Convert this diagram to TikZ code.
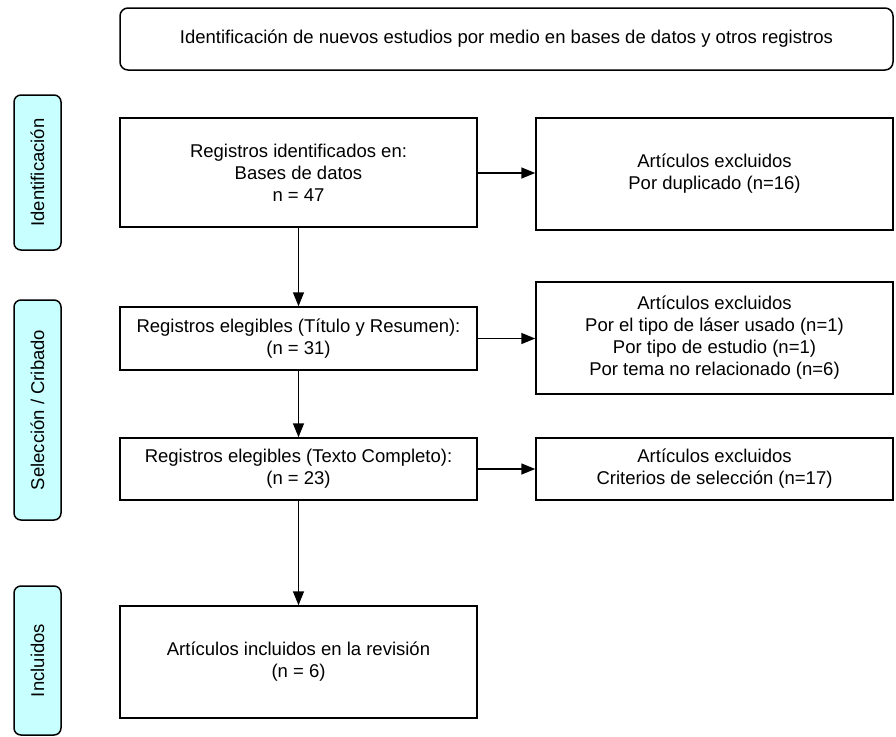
\documentclass[tikz,border=0pt]{standalone}
\usepackage{fontspec}
\setmainfont{Liberation Sans}
\usetikzlibrary{arrows.meta}
\definecolor{fasefill}{RGB}{200,255,255}
\tikzset{
  caja/.style={draw, line width=1.5pt, minimum width=357pt, align=center, inner sep=0pt},
  fase/.style={draw, line width=1.5pt, rounded corners=7pt, fill=fasefill, rotate=90,
    minimum height=47pt, inner sep=0pt},
  flecha/.style={line width=1.5pt, -{Triangle[length=14pt,width=11pt]}}
}
\begin{document}
\begin{tikzpicture}[x=1pt, y=-1pt, every node/.style={font=\fontsize{18.5}{22}\selectfont}]
  \useasboundingbox (0,0) rectangle (896,736);
  % fases
  \node[fase, minimum width=155pt] (ident) at (37.5,172.5) {Identificación};
  \node[fase, minimum width=220pt] (cribado) at (37.5,410) {Selección / Cribado};
  \node[fase, minimum width=149pt] (incl) at (37.5,660.5) {Incluidos};
  % cajas
  \node[caja, rounded corners=8pt, minimum width=773pt, minimum height=62pt] (titulo) at (506.5,39)
    {Identificación de nuevos estudios por medio en bases de datos y otros registros};
  \node[caja, minimum height=109pt] (reg) at (298.5,172.5)
    {Registros identificados en:\\Bases de datos\\n = 47\hspace*{0pt}};
  \node[caja, minimum height=112pt] (excl) at (714.5,174)
    {Artículos excluidos\\Por duplicado (n=16)};
  \node[caja, minimum height=63pt] (tit) at (298.5,338.5)
    {Registros elegibles (Título y Resumen):\\(n = 31)};
  \node[caja, minimum height=112pt] (exclTit) at (714.5,338)
    {Artículos excluidos\\Por el tipo de láser usado (n=1)\\Por tipo de estudio (n=1)\\Por tema no relacionado (n=6)};
  \node[caja, minimum height=62pt] (texto) at (298.5,469)
    {Registros elegibles (Texto Completo):\\(n = 23)};
  \node[caja, minimum height=62pt] (exclTexto) at (714.5,469)
    {Artículos excluidos\\Criterios de selección (n=17)};
  \node[caja, minimum height=112pt] (fin) at (298.5,662)
    {Artículos incluidos en la revisión\\(n = 6)};
  % flechas
  \draw[flecha] (reg) -- (tit);
  \draw[flecha] (tit) -- (texto);
  \draw[flecha] (texto) -- (fin);
  \draw[flecha] (reg.east |- 0,173) -- (excl.west |- 0,173);
  \draw[flecha] (tit) -- (exclTit.west |- tit);
  \draw[flecha] (texto) -- (exclTexto);
\end{tikzpicture}
\end{document}
